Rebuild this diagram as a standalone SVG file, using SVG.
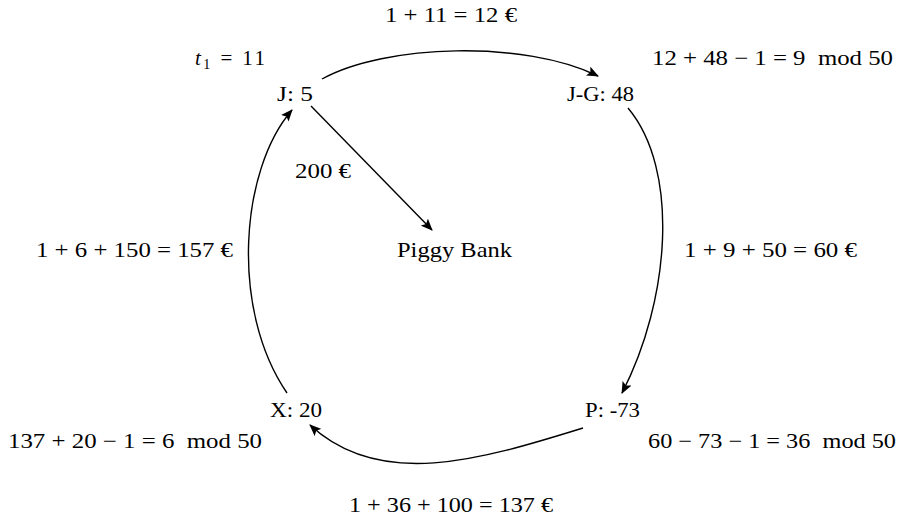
<svg xmlns="http://www.w3.org/2000/svg" width="901" height="522" viewBox="0 0 901 522">
<style>
text{font-family:"Liberation Serif","DejaVu Serif",serif;font-size:21px;fill:#000}
.e{fill:none;stroke:#000;stroke-width:1.4}
</style>
<defs>
<marker id="a" viewBox="0 0 12 10" refX="11" refY="5" markerWidth="12" markerHeight="10" markerUnits="userSpaceOnUse" orient="auto">
<path d="M0,0 L12,5 L0,10 L2.5,5 Z" fill="#000"/>
</marker>
</defs>
<rect width="901" height="522" fill="#fff"/>
<g id="connectors">
<path class="e" d="M322,79 C385,44 525,40 598,76" marker-end="url(#a)"/>
<path class="e" d="M311,106 L432,230" marker-end="url(#a)"/>
<path class="e" d="M628,108 C680,170 670,300 622,393" marker-end="url(#a)"/>
<path class="e" d="M583,428 C480,460 380,490 310,425" marker-end="url(#a)"/>
<path class="e" d="M287,393 C230,310 240,170 292,110" marker-end="url(#a)"/>
</g>
<g id="J"><text x="277" y="101" textLength="36" lengthAdjust="spacingAndGlyphs">J: 5</text></g>
<g id="JG"><text x="567" y="101" textLength="67" lengthAdjust="spacingAndGlyphs">J-G: 48</text></g>
<g id="P"><text x="585" y="417" textLength="55" lengthAdjust="spacingAndGlyphs">P: -73</text></g>
<g id="X"><text x="270" y="417" textLength="52" lengthAdjust="spacingAndGlyphs">X: 20</text></g>
<g id="PB"><text x="397" y="257" textLength="115" lengthAdjust="spacingAndGlyphs">Piggy Bank</text></g>
<g id="labels">
<text x="385" y="22" textLength="132" lengthAdjust="spacingAndGlyphs">1 + 11 = 12 €</text>
<text x="195" y="65" textLength="70"><tspan font-style="italic">t</tspan><tspan font-size="14" dy="4">1</tspan><tspan dy="-4"> = 11</tspan></text>
<text x="652" y="65" textLength="241" lengthAdjust="spacingAndGlyphs">12 + 48 − 1 = 9 &#160;mod 50</text>
<text x="295" y="178" textLength="56" lengthAdjust="spacingAndGlyphs">200 €</text>
<text x="36" y="257" textLength="197" lengthAdjust="spacingAndGlyphs">1 + 6 + 150 = 157 €</text>
<text x="684" y="257" textLength="173" lengthAdjust="spacingAndGlyphs">1 + 9 + 50 = 60 €</text>
<text x="8" y="448" textLength="254" lengthAdjust="spacingAndGlyphs">137 + 20 − 1 = 6 &#160;mod 50</text>
<text x="648" y="448" textLength="248" lengthAdjust="spacingAndGlyphs">60 − 73 − 1 = 36 &#160;mod 50</text>
<text x="349" y="512" textLength="204" lengthAdjust="spacingAndGlyphs">1 + 36 + 100 = 137 €</text>
</g>
</svg>
